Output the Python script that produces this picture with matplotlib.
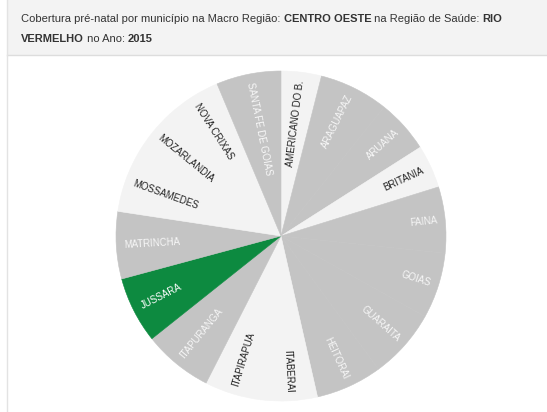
import numpy as np
import matplotlib
matplotlib.use("Agg")
from matplotlib import pyplot as plt
from matplotlib.patches import Rectangle
from matplotlib.lines import Line2D

plt.rcParams['font.family'] = ['Liberation Sans', 'DejaVu Sans']

# municipios (ordem alfabetica, sentido horario a partir do topo)
municipios = ["AMERICANO DO B.", "ARAGUAPAZ", "ARUANA", "BRITANIA", "FAINA",
              "GOIAS", "GUARAITA", "HEITORAI", "ITABERAI", "ITAPIRAPUA",
              "ITAPURANGA", "JUSSARA", "MATRINCHA", "MOSSAMEDES",
              "MOZARLANDIA", "NOVA CRIXAS", "SANTA FE DE GOIAS"]
cobertura = [53.7, 92.2, 71.4, 57.5, 88.1, 87.7, 93.0, 88.5, 74.8, 75.6,
             92.6, 88.5, 89.6, 83.9, 63.5, 74.1, 86.2]
# 0 = claro, 1 = cinza, 2 = selecionado
grupo = [0, 1, 1, 0, 1, 1, 1, 1, 0, 0, 1, 2, 1, 0, 0, 0, 1]

cores = {0: "#f3f3f3", 1: "#c4c4c4", 2: "#0d8a40"}
cores_texto = {0: "#222222", 1: "#f7f7f7", 2: "#ffffff"}

W, H = 547, 412
fig = plt.figure(figsize=(W / 100, H / 100), dpi=100)
fig.patch.set_facecolor("white")

# cabecalho
fig.patches.append(Rectangle((7 / W, 1 - 55 / H), 1, 55 / H, transform=fig.transFigure,
                             facecolor="#f3f3f3", edgecolor="none", zorder=0))
fig.lines.append(Line2D([7 / W, 1], [1 - 55 / H, 1 - 55 / H], transform=fig.transFigure,
                        color="#dddddd", lw=1))
fig.lines.append(Line2D([7 / W, 7 / W], [0, 1], transform=fig.transFigure,
                        color="#e3e3e3", lw=1))

# pizza
cx, cy, R = 281, 236, 165
ax = fig.add_axes([(cx - R) / W, (H - cy - R) / H, 2 * R / W, 2 * R / H])
fatias, _ = ax.pie(cobertura, colors=[cores[g] for g in grupo], startangle=90,
                   counterclock=False, radius=1)
for f in fatias:
    # borda da mesma cor para nao aparecer emenda entre fatias iguais
    f.set_edgecolor(f.get_facecolor())
    f.set_linewidth(0.4)
ax.set_xlim(-1, 1)
ax.set_ylim(-1, 1)
ax.set_aspect("equal")
ax.axis('off')

total = float(sum(cobertura))
inicio = 0.0
for nome, v, g in zip(municipios, cobertura, grupo):
    largura = v / total * 360
    theta = inicio + largura / 2  # graus, horario a partir do topo
    inicio += largura
    phi = 90 - theta
    x = 0.95 * np.cos(np.radians(phi))
    y = 0.95 * np.sin(np.radians(phi))
    if theta < 180:
        rot, ha = phi, "right"
    else:
        rot, ha = phi + 180, "left"
    ax.text(x, y, nome, rotation=rot, rotation_mode="anchor", ha=ha, va="center",
            fontsize=6.9, color=cores_texto[g])

# titulo com partes em negrito
linha1 = [("Cobertura pré-natal por município na Macro Região: ", "normal"),
          ("CENTRO OESTE", "bold"), (" na Região de Saúde: ", "normal"), ("RIO", "bold")]
linha2 = [("VERMELHO", "bold"), (" no Ano: ", "normal"), ("2015", "bold")]

renderer = fig.canvas.get_renderer()
for partes, base in ((linha1, 22), (linha2, 42)):
    x0 = 21
    for txt, peso in partes:
        t = fig.text(x0 / W, 1 - base / H, txt, fontsize=8, fontweight=peso,
                     color="#333333", va="baseline")
        x0 += t.get_window_extent(renderer).width

fig.savefig("out.png", dpi=100)
